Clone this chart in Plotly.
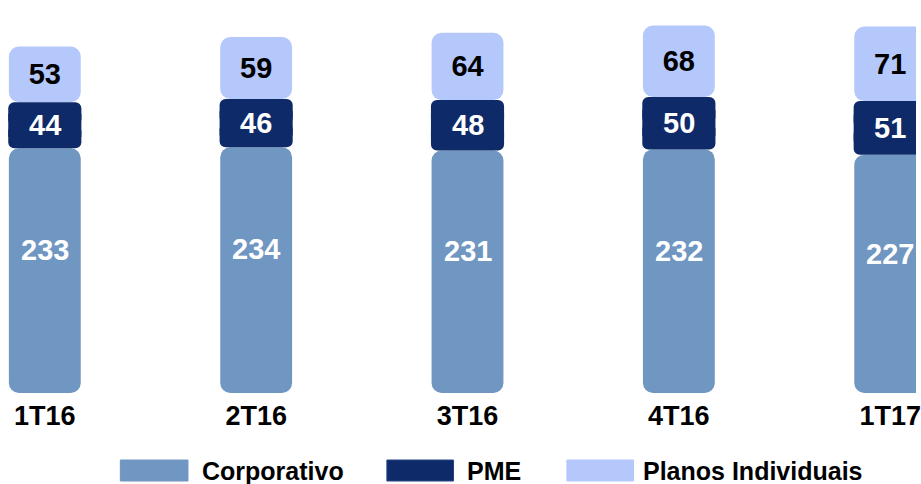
import plotly.graph_objects as go

categories = ["1T16", "2T16", "3T16", "4T16", "1T17"]
corporativo = [233, 234, 231, 232, 227]
pme = [44, 46, 48, 50, 51]
planos = [53, 59, 64, 68, 71]
legend_names = ["Corporativo", "PME", "Planos Individuais"]

C_CORP = "#7096c2"
C_PME = "#0f2a68"
C_PLAN = "#b4c8fc"
FONT = "Arial, Liberation Sans, sans-serif"
VAL_SIZE = 29

x = list(range(len(categories)))
W = 0.34

fig = go.Figure()

# Corporativo: drawn downward from its top so the rounded end is at the bottom
fig.add_trace(go.Bar(
    x=x, y=[-v for v in corporativo], base=corporativo, width=W,
    marker=dict(color=C_CORP, cornerradius=10, line=dict(width=0)),
    name=legend_names[0], showlegend=False, hoverinfo="skip"))

# Planos Individuais on top, rounded top
fig.add_trace(go.Bar(
    x=x, y=planos, base=[c + p for c, p in zip(corporativo, pme)], width=W,
    marker=dict(color=C_PLAN, cornerradius=10, line=dict(width=0)),
    text=[str(v) for v in planos], textposition="inside", insidetextanchor="middle",
    textfont=dict(family=FONT, size=VAL_SIZE, color="black", weight="bold"),
    textangle=0, constraintext="none",
    name=legend_names[2], showlegend=False, hoverinfo="skip"))

# PME: two rounded halves plus a square middle piece to hide the seam
mid = [c + p / 2 for c, p in zip(corporativo, pme)]
WP = W + 0.006
for sign in (1, -1):
    fig.add_trace(go.Bar(
        x=x, y=[sign * p / 2 for p in pme], base=mid, width=WP,
        marker=dict(color=C_PME, cornerradius=6, line=dict(width=0)),
        showlegend=False, hoverinfo="skip"))
fig.add_trace(go.Bar(
    x=x, y=[p / 2 for p in pme], base=[c + p / 4 for c, p in zip(corporativo, pme)], width=WP,
    marker=dict(color=C_PME, line=dict(width=0)),
    showlegend=False, hoverinfo="skip"))

# value labels
for xi, c, p, m in zip(x, corporativo, pme, mid):
    fig.add_annotation(x=xi, y=c * 0.585, text=f"<b>{c}</b>", showarrow=False,
                       font=dict(family=FONT, size=VAL_SIZE, color="white"))
    fig.add_annotation(x=xi, y=m, text=f"<b>{p}</b>", showarrow=False,
                       font=dict(family=FONT, size=VAL_SIZE, color="white"))

# manual legend
PLOT_BOTTOM = 393.0
def py(v):
    return (PLOT_BOTTOM - v) / PLOT_BOTTOM

legend_items = [
    (legend_names[0], C_CORP, 121, 189, 201),
    (legend_names[1], C_PME, 389, 456, 468),
    (legend_names[2], C_PLAN, 570, 637, 645),
]
for name, col, x0, x1, tx in legend_items:
    fig.add_shape(type="rect", xref="paper", yref="paper",
                  x0=x0 / 921, x1=x1 / 921, y0=py(481), y1=py(460),
                  fillcolor=col, line=dict(width=1, color=col if col != C_PME else "#27458a"))
    fig.add_annotation(xref="paper", yref="paper", x=tx / 921, y=py(471),
                       xanchor="left", yanchor="middle", showarrow=False,
                       text=f"<b>{name}</b>",
                       font=dict(family=FONT, size=25, color="black"))

fig.update_layout(
    width=921, height=484,
    margin=dict(l=0, r=0, t=0, b=91),
    barmode="overlay",
    plot_bgcolor="white", paper_bgcolor="white",
    showlegend=False,
    xaxis=dict(range=[-0.212, 4.122], tickvals=x, ticktext=[f"<b>{c}</b>" for c in categories],
               tickfont=dict(family=FONT, size=27, color="black"),
               showgrid=False, zeroline=False, showline=False, ticks="",
               ticklabelstandoff=4, ticklabeloverflow="allow"),
    yaxis=dict(range=[0, 374.3], visible=False, showgrid=False, zeroline=False),
)

fig.write_html("out.html", config={"displayModeBar": False},
               post_script="document.body.style.margin='0';document.body.style.padding='0';"
                           "document.body.style.overflow='hidden';")
